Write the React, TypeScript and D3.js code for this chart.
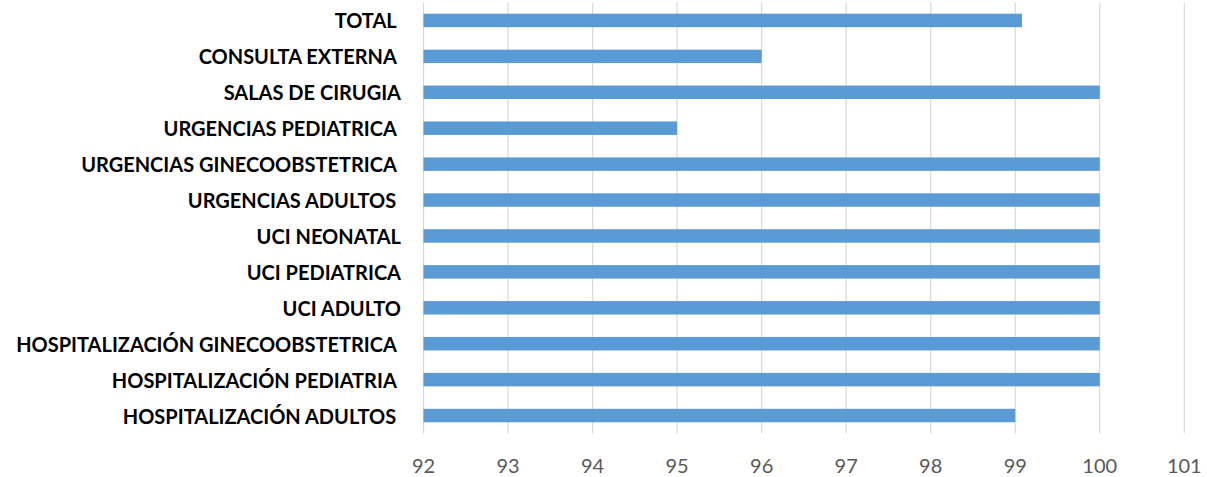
import React from "react";
import * as d3 from "d3";

const categories = [
  "TOTAL ",
  "CONSULTA EXTERNA ",
  "SALAS DE CIRUGIA",
  "URGENCIAS PEDIATRICA ",
  "URGENCIAS GINECOOBSTETRICA ",
  "URGENCIAS ADULTOS ",
  "UCI NEONATAL",
  "UCI PEDIATRICA",
  "UCI ADULTO",
  "HOSPITALIZACIÓN GINECOOBSTETRICA ",
  "HOSPITALIZACIÓN PEDIATRIA ",
  "HOSPITALIZACIÓN ADULTOS ",
];
const values = [99.08, 96, 100, 95, 100, 100, 100, 100, 100, 100, 100, 99];
const xTicks = [92, 93, 94, 95, 96, 97, 98, 99, 100, 101];

const W = 1207;
const H = 477;
const left = 423.5;
const right = 1184.3;
const top = 2.5;
const bottom = 433.5;

export default function App() {
  const x = d3.scaleLinear().domain([92, 101]).range([left, right]);
  const y = d3
    .scaleBand<string>()
    .domain(categories)
    .range([top, bottom])
    .paddingInner(0.625)
    .paddingOuter(0.3125);
  const font = "Lato, 'Open Sans', sans-serif";
  return (
    <svg
      width={W}
      height={H}
      style={{ position: "absolute", left: 0, top: 0, background: "#fff" }}
    >
      {xTicks.map((t) => (
        <line
          key={"g" + t}
          x1={x(t)}
          x2={x(t)}
          y1={top}
          y2={bottom}
          stroke="#d9d9d9"
          strokeWidth={1.2}
        />
      ))}
      {categories.map((c, i) => (
        <rect
          key={"b" + i}
          x={x(92)}
          y={y(c)}
          width={x(values[i]) - x(92)}
          height={y.bandwidth()}
          fill="#5B9BD5"
        />
      ))}
      {categories.map((c) => (
        <text
          key={"l" + c}
          x={401}
          y={(y(c) as number) + y.bandwidth() / 2}
          textAnchor="end"
          dominantBaseline="central"
          fontFamily={font}
          fontWeight="bold"
          fontSize={20}
          fill="#000"
          style={{ whiteSpace: "pre" }}
        >
          {c}
        </text>
      ))}
      {xTicks.map((t) => (
        <text
          key={"t" + t}
          x={x(t)}
          y={465}
          textAnchor="middle"
          dominantBaseline="central"
          fontFamily={font}
          fontSize={20}
          fill="#595959"
        >
          {t}
        </text>
      ))}
    </svg>
  );
}
